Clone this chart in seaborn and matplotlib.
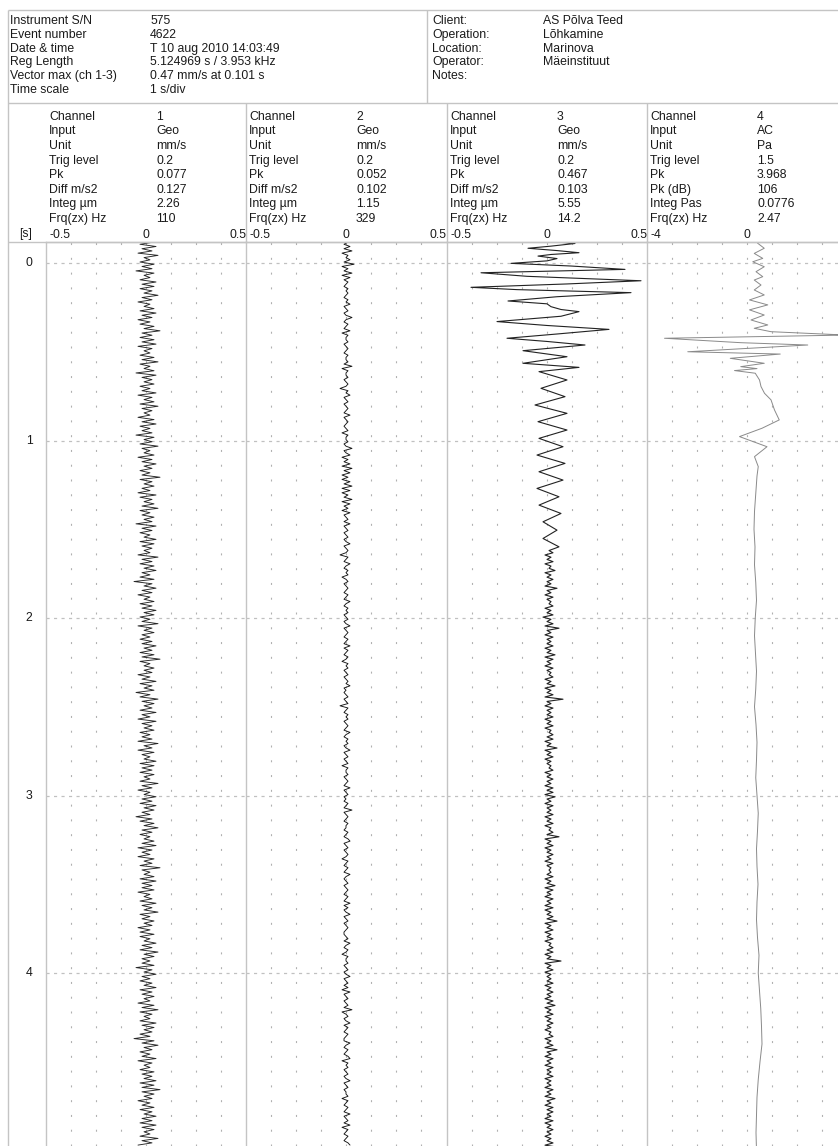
import numpy as np
import matplotlib
matplotlib.use('Agg')
import matplotlib.pyplot as plt
import seaborn as sns

sns.set_theme(style='white')
plt.rcParams['font.family'] = ['Liberation Sans', 'DejaVu Sans']

# ---------------- header data ----------------
info_labels = ["Instrument S/N", "Event number", "Date & time", "Reg Length",
               "Vector max (ch 1-3)", "Time scale"]
info_values = ["575", "4622", "T 10 aug 2010 14:03:49", "5.124969 s / 3.953 kHz",
               "0.47 mm/s at 0.101 s", "1 s/div"]
site_labels = ["Client:", "Operation:", "Location:", "Operator:", "Notes:"]
site_values = ["AS Põlva Teed", "Lõhkamine", "Marinova", "Mäeinstituut", ""]

geo_rows = ["Channel", "Input", "Unit", "Trig level", "Pk", "Diff m/s2", "Integ µm", "Frq(zx) Hz"]
ac_rows = ["Channel", "Input", "Unit", "Trig level", "Pk", "Pk (dB)", "Integ Pas", "Frq(zx) Hz"]
ch_labels = [geo_rows, geo_rows, geo_rows, ac_rows]
ch1_info = ["1", "Geo", "mm/s", "0.2", "0.077", "0.127", "2.26", "110"]
ch2_info = ["2", "Geo", "mm/s", "0.2", "0.052", "0.102", "1.15", "329"]
ch3_info = ["3", "Geo", "mm/s", "0.2", "0.467", "0.103", "5.55", "14.2"]
ch4_info = ["4", "AC", "Pa", "1.5", "3.968", "106", "0.0776", "2.47"]
ch_values = [ch1_info, ch2_info, ch3_info, ch4_info]

x_ranges = [(-0.5, 0.5), (-0.5, 0.5), (-0.5, 0.5), (-4, 4)]
x_tick_text = [["-0.5", "0", "0.5"], ["-0.5", "0", "0.5"], ["-0.5", "0", "0.5"], ["-4", "0"]]
time_ticks = [0, 1, 2, 3, 4]

# ---------------- trace data ----------------
t_start = -0.118
dt_noise = 0.0125

# channel 1 velocity, in 0.01 mm/s
ch1_cents = [
 4,-3,5,-2,3,-4,6,-1,2,-3,4,-2,
 3,-5,4,-1,2,-3,5,-2,4,-3,3,-1,
 6,-2,3,-4,2,-1,4,-3,5,-2,3,-4,
 2,-3,4,-1,7,-2,3,-3,4,-2,5,-4,
 3,-1,2,-3,4,-2,6,-3,2,-1,4,-5,
 5,-2,3,-1,4,-3,2,-2,5,-4,3,-1,
 4,-3,6,-2,3,-1,2,-4,4,-2,5,-3,
 2,-2,3,-5,4,-1,3,-3,6,-2,2,-1,
 4,-4,3,-2,5,-1,3,-3,2,-2,7,-3,
 3,-1,4,-2,2,-4,5,-3,3,-1,4,-2,
 6,-3,2,-2,4,-1,3,-5,5,-2,3,-3,
 2,-1,5,-3,4,-2,3,-1,2,-4,6,-2,
 3,-3,4,-1,5,-2,2,-3,4,-6,3,-1,
 5,-2,3,-4,2,-1,4,-3,3,-2,5,-1,
 4,-3,2,-2,6,-4,3,-1,4,-2,2,-3,
 3,-2,5,-1,3,-3,4,-2,7,-3,2,-1,
 4,-1,3,-4,2,-2,5,-3,3,-1,4,-5,
 2,-3,6,-2,4,-1,3,-3,5,-2,2,-4,
 5,-2,3,-1,4,-3,2,-2,3,-4,6,-1,
 3,-4,4,-2,2,-1,5,-3,4,-2,3,-3,
 4,-1,2,-3,6,-2,3,-4,2,-1,5,-2,
 3,-3,5,-1,4,-2,2,-5,3,-3,4,-1,
 6,-2,3,-3,2,-1,4,-2,5,-4,3,-2,
 2,-4,4,-1,3,-3,7,-2,2,-1,4,-3,
 5,-2,3,-2,4,-4,2,-1,3,-3,5,-2,
 3,-1,6,-3,2,-2,4,-1,3,-4,2,-3,
 4,-3,2,-1,5,-2,3,-3,6,-1,4,-2,
 2,-2,4,-5,3,-1,5,-2,2,-3,3,-1,
 5,-3,3,-2,4,-1,2,-4,4,-2,6,-3,
 3,-1,2,-3,5,-2,4,-1,3,-3,2,-6,
 4,-2,6,-1,3,-3,2,-2,5,-4,3,-1,
 2,-3,4,-2,3,-1,5,-3,4,-2,7,-2,
 4,-1,3,-4,2,-2,4,-3,3,-1,5,-2,
 3,-3,5,-2,4,-1,2,-3,6,-2,3,-4]

# channel 2 velocity, in 0.01 mm/s
ch2_cents = [
 1,-1,2,-1,3,-2,1,0,2,-1,4,-2,
 1,-1,3,-2,2,-1,1,0,-1,1,0,1,
 0,-1,1,0,2,-1,0,1,-1,0,3,0,
 -1,1,0,-1,2,-2,1,0,0,1,-1,0,
 1,0,-1,1,0,0,1,-1,3,-2,1,0,
 0,1,-1,0,1,0,-3,1,0,2,-1,0,
 1,-1,0,1,0,-1,2,-1,0,1,0,-1,
 0,1,-2,1,0,0,1,-1,0,3,-1,0,
 2,-2,1,-1,2,-2,3,-1,2,-2,1,-2,
 2,-1,3,-2,2,-2,1,-1,3,-2,2,-1,
 1,-2,2,-1,0,1,-1,2,-1,0,1,-1,
 0,1,-1,0,2,-1,0,1,0,-3,1,0,
 -1,2,0,-1,1,0,1,-2,0,1,-1,0,
 1,0,-1,1,0,-1,2,0,-1,1,0,1,
 -1,0,1,-1,0,2,-1,0,1,0,-1,1,
 0,-1,2,-1,1,0,-1,1,0,-2,1,0,
 1,-1,0,1,-1,0,1,0,2,-1,0,-1,
 0,1,-1,0,1,-3,1,0,-1,1,0,1,
 -1,0,1,0,-1,2,0,-1,1,0,1,-1,
 0,2,-1,0,1,-1,0,1,-2,1,0,0,
 1,-1,0,1,0,-1,2,-1,0,1,-1,0,
 -1,1,0,-1,3,-1,0,1,0,-1,1,0,
 0,-1,1,0,-1,1,2,-1,0,1,-1,0,
 1,0,-2,1,0,-1,1,0,-1,2,0,-1,
 0,1,-1,0,1,0,-1,1,0,-1,2,-1,
 1,-1,0,2,-1,0,1,-1,0,1,0,-1,
 -1,0,1,-1,2,0,-1,1,0,-2,1,0,
 0,1,-1,0,1,-1,0,2,-1,0,1,-1,
 1,-2,2,-1,0,1,-1,0,1,-1,3,-2,
 0,1,-1,0,2,-1,1,0,-1,1,0,-1,
 -1,2,0,-1,1,0,-1,1,2,-2,1,0,
 1,-1,0,1,-1,0,2,-1,0,1,-1,0,
 0,1,-2,1,0,-1,1,0,-1,2,-1,0,
 1,-1,2,-2,1,0,-1,1,0,-1,1,2]

# channel 3: large oscillation (s, mm/s)
ch3_wave_t = [-0.118,-0.110,-0.095,-0.083,-0.070,-0.058,-0.048,-0.039,-0.025,-0.012,
              0.002,0.017,0.036,0.055,0.075,0.100,0.118,0.137,0.150,0.167,
              0.190,0.214,0.230,0.246,0.262,0.274,0.300,0.330,0.352,0.374,
              0.400,0.424,0.442,0.462,0.494,0.528,0.565,0.588,0.612,0.659,
              0.706,0.753,0.800,0.847,0.894,0.941,0.988,1.035,1.082,1.129,
              1.176,1.223,1.270,1.317,1.364,1.411,1.458,1.505,1.552,1.599,1.620]
ch3_wave_v = [0.05,0.14,0.02,-0.095,0.05,0.16,0.02,-0.045,0.05,0.00,
              -0.18,0.12,0.39,-0.33,-0.10,0.47,0.10,-0.38,-0.15,0.42,
              0.05,-0.195,0.00,0.02,0.07,0.16,0.07,-0.25,0.00,0.31,
              0.05,-0.20,0.00,0.19,-0.12,0.10,-0.12,0.16,-0.04,0.10,
              -0.03,0.09,-0.06,0.10,-0.045,0.10,-0.04,0.08,-0.05,0.09,
              -0.04,0.08,-0.05,0.06,-0.04,0.07,-0.02,0.05,-0.02,0.06,0.01]

# channel 3 after 1.62 s, in 0.01 mm/s
ch3_noise_start = 1.6325
ch3_noise_cents = [
 3,-1,2,0,3,-1,2,1,4,-1,2,0,
 3,0,2,-1,5,0,2,-1,3,0,2,1,
 3,-1,2,0,3,-2,2,0,3,-1,6,0,
 2,-1,3,0,2,0,3,-1,2,0,4,-1,
 3,0,2,-1,3,0,2,1,3,-1,2,0,
 4,-1,2,0,3,-1,8,0,2,-1,3,0,
 2,0,3,-1,2,0,3,-1,2,1,3,0,
 3,-1,2,0,5,-1,2,0,3,-1,2,0,
 2,1,3,-1,2,0,3,0,2,-1,3,0,
 3,-1,4,0,2,-1,3,0,2,0,3,-1,
 2,0,3,-1,2,1,3,0,6,-1,2,0,
 3,-1,2,0,3,0,2,-1,3,0,2,1,
 2,0,3,-1,2,0,4,-1,3,0,2,-1,
 3,0,2,-1,3,-1,2,0,3,0,5,-1,
 2,0,3,-1,2,0,3,-1,2,1,3,0,
 3,-1,2,0,7,-1,2,0,3,-1,2,0,
 2,0,3,-1,2,0,3,0,2,-1,3,0,
 4,-1,2,0,3,-1,2,0,3,0,2,-1,
 2,1,3,-1,2,0,3,-1,5,0,2,-1,
 3,0,2,-1,3,0,2,0,3,-1,2,0,
 2,-1,3,0,2,-1,4,0,2,-1,3,0,
 3,0,2,-1,3,-1,2,0,3,0,2,-1,
 2,0,3,-1,6,0,2,-1,3,0,2,0]

# channel 4 air pressure (s, Pa)
ch4_t = [-0.118,-0.111,-0.083,-0.054,-0.026,-0.007,0.021,0.049,0.077,0.096,0.124,
         0.152,0.180,0.208,0.236,0.264,0.293,0.321,0.349,0.368,0.387,
         0.406,0.424,0.449,0.462,0.500,0.513,0.537,0.565,0.584,0.595,
         0.606,0.621,0.659,0.696,0.734,0.771,0.828,0.884,0.931,0.978,
         1.035,1.091,1.147,
         1.2,1.3,1.4,1.5,1.6,1.7,1.8,1.9,2.0,2.1,2.2,2.3,2.4,2.5,2.6,2.7,2.8,2.9,
         3.0,3.1,3.2,3.3,3.4,3.5,3.6,3.7,3.8,3.9,4.0,4.1,4.2,4.3,4.4,4.5,4.6,
         4.7,4.8,4.9,5.0]
ch4_v = [0.40,0.43,0.69,0.29,0.63,0.23,0.69,0.36,0.63,0.29,0.56,
         0.29,0.69,0.10,0.83,0.10,0.69,0.16,0.83,0.29,0.96,
         3.97,-3.30,-0.24,2.43,-2.37,1.33,-0.67,0.69,-0.25,0.40,
         -0.50,0.33,0.50,0.56,0.70,0.96,1.10,1.29,0.60,-0.30,
         0.80,0.30,0.45,
         0.40,0.35,0.30,0.28,0.32,0.30,0.35,0.38,0.33,0.30,0.34,0.38,0.35,0.30,0.36,
         0.40,0.38,0.35,0.40,0.45,0.42,0.38,0.40,0.44,0.40,0.38,0.42,0.48,0.45,0.50,
         0.55,0.58,0.60,0.52,0.45,0.40,0.38,0.36,0.38]

ch1_vals = [c / 100 for c in ch1_cents]
ch2_vals = [c / 100 for c in ch2_cents]
ch3_noise_vals = [c / 100 for c in ch3_noise_cents]

# ---------------- layout (pixels) ----------------
W, H = 838, 1146
PLOT_TOP = 242
T0_PX = 263
PX_PER_S = 177.5
panel_left = [46, 246, 447, 647]
panel_w = 200
t_top = (PLOT_TOP - T0_PX) / PX_PER_S
t_bot = (H - T0_PX) / PX_PER_S

fig = plt.figure(figsize=(W / 100, H / 100), dpi=100)
bg = fig.add_axes([0, 0, 1, 1])
bg.set_xlim(0, W)
bg.set_ylim(H, 0)
bg.axis('off')

LC = '#c4c4c4'
FS = 8.8
TXT = '#1a1a1a'

def hline(y, x0, x1):
    bg.plot([x0, x1], [y, y], color=LC, lw=1.0, solid_capstyle='butt')

def vline(x, y0, y1):
    bg.plot([x, x], [y0, y1], color=LC, lw=1.0, solid_capstyle='butt')

hline(10, 8, W)
hline(103, 8, W)
hline(PLOT_TOP, 8, W)
vline(8, 10, H)
vline(427, 10, 103)
for xl in panel_left[1:]:
    vline(xl, 103, PLOT_TOP)

for i, (lab, val) in enumerate(zip(info_labels, info_values)):
    yb = 24 + 13.8 * i
    bg.text(10, yb, lab, fontsize=FS, color=TXT, va='baseline', ha='left')
    bg.text(150, yb, val, fontsize=FS, color=TXT, va='baseline', ha='left')
for i, (lab, val) in enumerate(zip(site_labels, site_values)):
    yb = 24 + 13.8 * i
    bg.text(432, yb, lab, fontsize=FS, color=TXT, va='baseline', ha='left')
    bg.text(543, yb, val, fontsize=FS, color=TXT, va='baseline', ha='left')

for p in range(4):
    xl = panel_left[p]
    for i, (lab, val) in enumerate(zip(ch_labels[p], ch_values[p])):
        yb = 119.8 + 14.6 * i
        bg.text(xl + 3, yb, lab, fontsize=FS, color=TXT, va='baseline', ha='left')
        bg.text(xl + 110, yb, val, fontsize=FS, color=TXT, va='baseline', ha='left')
    labs = x_tick_text[p]
    yb = 237.5
    bg.text(xl + 3, yb, labs[0], fontsize=FS, color=TXT, va='baseline', ha='left')
    bg.text(xl + panel_w / 2, yb, labs[1], fontsize=FS, color=TXT, va='baseline', ha='center')
    if len(labs) > 2:
        bg.text(xl + panel_w, yb, labs[2], fontsize=FS, color=TXT, va='baseline', ha='right')

bg.text(26, 237.5, "[s]", fontsize=FS, color=TXT, va='baseline', ha='center')

# ---------------- panels ----------------
axes = []
for p in range(4):
    ax = fig.add_axes([panel_left[p] / W, 0, panel_w / W, (H - PLOT_TOP) / H])
    ax.set_facecolor('none')
    axes.append(ax)

t1 = [t_start + dt_noise * k for k in range(len(ch1_vals))]
sns.lineplot(x=ch1_vals, y=t1, sort=False, estimator=None, ax=axes[0],
             color='#262626', linewidth=0.65)
t2 = [t_start + dt_noise * k for k in range(len(ch2_vals))]
sns.lineplot(x=ch2_vals, y=t2, sort=False, estimator=None, ax=axes[1],
             color='#141414', linewidth=0.65)
t3n = [ch3_noise_start + dt_noise * k for k in range(len(ch3_noise_vals))]
sns.lineplot(x=ch3_wave_v + ch3_noise_vals, y=ch3_wave_t + t3n, sort=False,
             estimator=None, ax=axes[2], color='#222222', linewidth=0.8)
sns.lineplot(x=ch4_v, y=ch4_t, sort=False, estimator=None, ax=axes[3],
             color='#8a8a8a', linewidth=0.7)

for p, ax in enumerate(axes):
    lo, hi = x_ranges[p]
    ax.set_xlim(lo, hi)
    ax.set_ylim(t_bot, t_top)
    step = (hi - lo) / 8
    ax.set_xticks([lo + step * k for k in range(1, 8)])
    ax.set_xticklabels([])
    ax.set_yticks(time_ticks)
    ax.set_yticklabels([])
    ax.tick_params(length=0)
    ax.xaxis.grid(True, linestyle=(0, (1.8, 11.5)), color='#b0b0b0', lw=0.8)
    ax.yaxis.grid(True, linestyle=(0, (2.5, 3.5)), color='#c0c0c0', lw=0.9)
    ax.set_axisbelow(True)
    for side in ['right', 'bottom']:
        ax.spines[side].set_visible(False)
    for side in ['left', 'top']:
        ax.spines[side].set_color(LC)
        ax.spines[side].set_linewidth(1.0)
    ax.set_xlabel('')
    ax.set_ylabel('')

# time labels in the left margin, placed through the panel's time scale
for tv in time_ticks:
    axes[0].text((29 - 46) / panel_w, tv, str(tv), transform=axes[0].get_yaxis_transform(),
                 fontsize=FS, color=TXT, ha='center', va='center', clip_on=False)

fig.savefig('out.png', dpi=100)
